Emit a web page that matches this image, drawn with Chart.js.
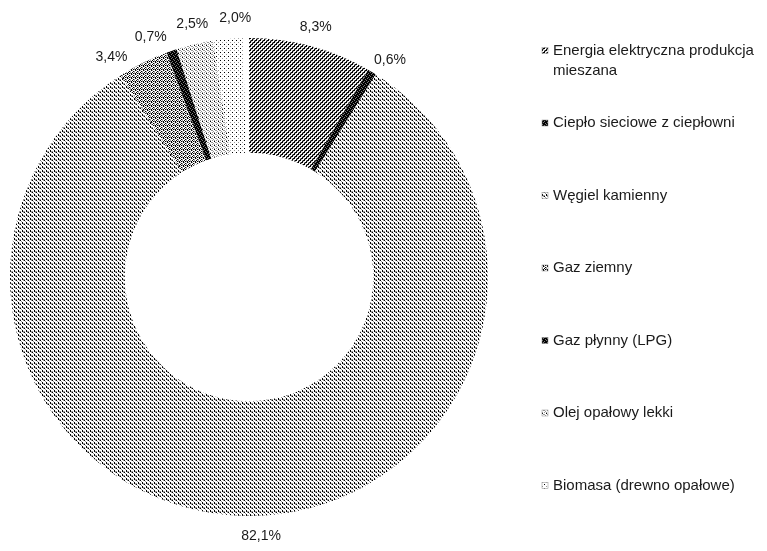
<!DOCTYPE html>
<html><head><meta charset="utf-8">
<script src="https://cdn.jsdelivr.net/npm/chart.js@4"></script>
<style>html,body{margin:0;padding:0;background:#fff}#wrap{width:767px;height:551px;position:relative}</style>
</head><body><div id="wrap"><canvas id="c" width="767" height="551"></canvas></div>
<script>
// ---- data ----
const categories = ['Energia elektryczna produkcja mieszana','Ciepło sieciowe z ciepłowni','Węgiel kamienny','Gaz ziemny','Gaz płynny (LPG)','Olej opałowy lekki','Biomasa (drewno opałowe)'];
const shares = [8.3, 0.6, 82.1, 3.4, 0.7, 2.5, 2.0];
const shareLabels = shares.map(v => v.toFixed(1).replace('.', ',') + '%');

// ---- styles ----
const tiles = [
  ['k.gk','..kg','gkk.','kg..'],
  ['kkdk','dkkk','kkkd','kdkk'],
  ['k..g','.g..','..k.','g.kg'],
  ['k.g.','.kgk','g..k','.kg.'],
  ['kkdk','dkkk','kkkd','kdkk'],
  ['g.g.','..k.','g..g','.g..'],
  ['k...','....','..g.','....']
];
const labelNudge = [0, 2, -2.5, -5.8, -3.4, 0.5, 2];
const tileColors = {k:'#000000', d:'#777777', g:'#999999', l:'#cccccc', '.':'#ffffff'};
function makePattern(rows){
  const cv = document.createElement('canvas');
  cv.width = rows[0].length; cv.height = rows.length;
  const cx = cv.getContext('2d');
  rows.forEach((r, y) => [...r].forEach((ch, x) => { cx.fillStyle = tileColors[ch]; cx.fillRect(x, y, 1, 1); }));
  return cv.getContext('2d').createPattern(cv, 'repeat');
}
const fills = tiles.map(makePattern);
const FONT = '"Liberation Sans", Arial, sans-serif';

const pctLabels = {
  id: 'pctLabels',
  afterDatasetsDraw(chart){
    const ctx = chart.ctx;
    const meta = chart.getDatasetMeta(0);
    ctx.save();
    ctx.font = '14px ' + FONT;
    ctx.fillStyle = '#1a1a1a';
    ctx.textAlign = 'center'; ctx.textBaseline = 'middle';
    meta.data.forEach((arc, i) => {
      const p = arc.getProps(['x','y','startAngle','endAngle','outerRadius'], true);
      const mid = (p.startAngle + p.endAngle) / 2 + labelNudge[i] * Math.PI / 180;
      const r = p.outerRadius + 20;
      ctx.fillText(shareLabels[i], p.x + r * Math.cos(mid), p.y + r * Math.sin(mid));
    });
    ctx.restore();
  }
};

const sideLegend = {
  id: 'sideLegend',
  afterDraw(chart){
    const ctx = chart.ctx;
    ctx.save();
    ctx.font = '15px ' + FONT;
    ctx.textBaseline = 'middle';
    const x0 = 542, tx = 553, y0 = 50.5, step = 72.5, maxW = 210, lh = 20;
    categories.forEach((name, i) => {
      const words = name.split(' ');
      const lines = []; let cur = '';
      words.forEach(w => {
        const t = cur ? cur + ' ' + w : w;
        if (ctx.measureText(t).width > maxW && cur) { lines.push(cur); cur = w; } else cur = t;
      });
      lines.push(cur);
      const y = y0 + i * step;
      ctx.fillStyle = fills[i];
      ctx.fillRect(x0, y - 3, 6, 6);
      ctx.strokeStyle = '#888'; ctx.lineWidth = 0.5;
      ctx.strokeRect(x0, y - 3, 6, 6);
      ctx.fillStyle = '#1a1a1a';
      lines.forEach((ln, j) => ctx.fillText(ln, tx, y + j * lh));
    });
    ctx.restore();
  }
};

const total = shares.reduce((a, b) => a + b, 0);
new Chart(document.getElementById('c'), {
  type: 'doughnut',
  data: { labels: categories, datasets: [{ data: shares, backgroundColor: fills, borderWidth: 0 }] },
  options: {
    responsive: false, animation: false,
    cutout: '52%', rotation: 0, circumference: total * 3.6,
    layout: { padding: { left: 10, top: 38, right: 279, bottom: 35 } },
    plugins: { legend: { display: false }, tooltip: { enabled: false } }
  },
  plugins: [pctLabels, sideLegend]
});
</script></body></html>
